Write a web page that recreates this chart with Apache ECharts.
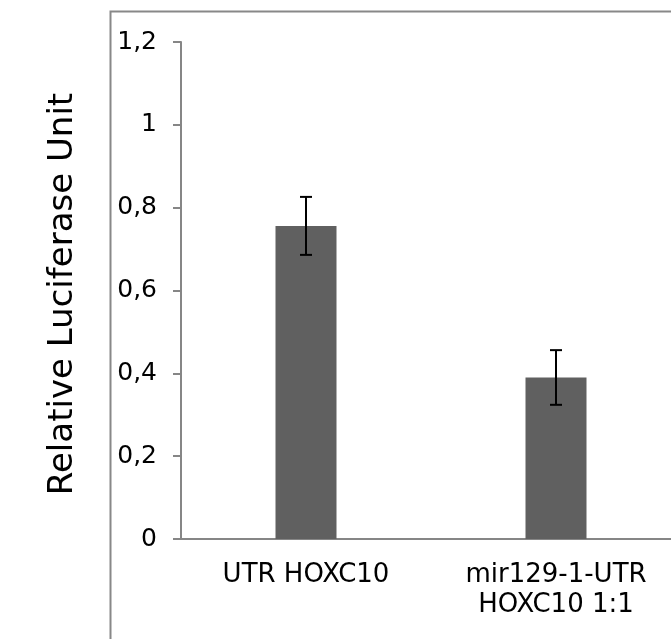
<!DOCTYPE html>
<html>
<head>
<meta charset="utf-8">
<script src="https://cdn.jsdelivr.net/npm/echarts@6/dist/echarts.min.js"></script>
<style>html,body{margin:0;padding:0;background:#fff;}#main{width:671px;height:639px;}</style>
</head>
<body>
<div id="main"></div>
<script>
const categories = ['UTR HOXC10', 'mir129-1-UTR\nHOXC10 1:1'];
const values = [0.756, 0.390];
const errors = [0.070, 0.066];
const yTicks = { min: 0, max: 1.2, interval: 0.2 };
const yTitle = 'Relative Luciferase Unit';

const chart = echarts.init(document.getElementById('main'), null, { renderer: 'canvas' });
const font = 'DejaVu Sans, Verdana, sans-serif';
chart.setOption({
  backgroundColor: '#ffffff',
  animation: false,
  graphic: [{
    type: 'rect', left: 108, top: 9, silent: true,
    shape: { x: 0, y: 0, width: 700, height: 700 },
    style: { fill: 'none', stroke: '#888888', lineWidth: 2 }
  }, {
    type: 'text', x: 63, y: 294, rotation: Math.PI / 2,
    style: { text: yTitle, font: '34px ' + font, fill: '#000', align: 'center', verticalAlign: 'middle' }
  }],
  grid: { left: 181, top: 42, width: 500, height: 497, containLabel: false, outerBoundsMode: 'none' },
  xAxis: {
    type: 'category', data: categories,
    axisLine: { show: true, lineStyle: { color: '#868686', width: 2 } },
    axisTick: { show: false },
    axisLabel: { color: '#000', fontFamily: font, fontSize: 26, lineHeight: 30, margin: 21 }
  },
  yAxis: {
    type: 'value', min: yTicks.min, max: yTicks.max, interval: yTicks.interval,
    axisLine: { show: true, lineStyle: { color: '#868686', width: 2 } },
    axisTick: { show: true, length: 8, lineStyle: { color: '#868686', width: 2 } },
    splitLine: { show: false },
    axisLabel: { color: '#000', fontFamily: font, fontSize: 25, margin: 24,
      formatter: v => String(Math.round(v * 10) / 10).replace('.', ',') }
  },
  series: [{
    type: 'bar', data: values, barWidth: 61,
    itemStyle: { color: '#606060' }
  }, {
    type: 'custom',
    data: values.map((v, i) => [i, v - errors[i], v + errors[i]]),
    renderItem: function (params, api) {
      const lo = api.coord([api.value(0), api.value(1)]);
      const hi = api.coord([api.value(0), api.value(2)]);
      const w = 6;
      const st = { stroke: '#000', lineWidth: 2 };
      return { type: 'group', children: [
        { type: 'line', shape: { x1: hi[0], y1: hi[1], x2: lo[0], y2: lo[1] }, style: st },
        { type: 'line', shape: { x1: hi[0] - w, y1: hi[1], x2: hi[0] + w, y2: hi[1] }, style: st },
        { type: 'line', shape: { x1: lo[0] - w, y1: lo[1], x2: lo[0] + w, y2: lo[1] }, style: st }
      ]};
    },
    z: 10
  }]
});
</script>
</body>
</html>
